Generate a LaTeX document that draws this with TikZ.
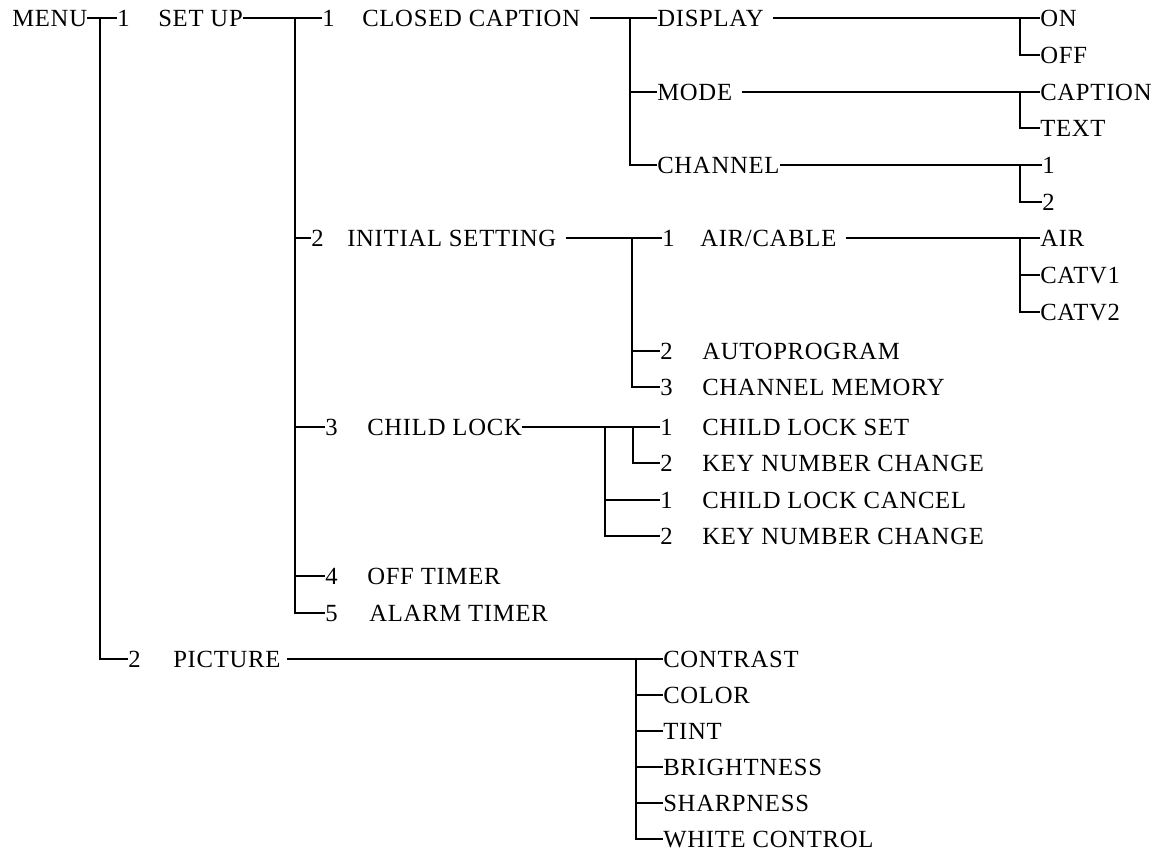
\documentclass[tikz,border=0pt]{standalone}
\usepackage{fontspec}
\setmainfont[LetterSpace=3]{Liberation Serif}
\begin{document}
\begin{tikzpicture}[x=0.75pt,y=-0.75pt,
  lbl/.style={anchor=west,inner sep=0pt,text height=12.2pt,text depth=0pt,font=\fontsize{18.5}{20}\selectfont},
  conn/.style={line width=0.9pt,black}]
\useasboundingbox (0,0) rectangle (1165,854);
% level 0/1
\node[lbl] (menu) at (12,18) {MENU};
\node[lbl] (n1) at (117,18) {1};
\node[lbl] (setup) at (158,18) {SET UP};
\node[lbl] (n2) at (128,659) {2};
\node[lbl] (picture) at (173,659) {PICTURE};
% set up children
\node[lbl] (n11) at (322,18) {1};
\node[lbl] (cc) at (362,18) {CLOSED CAPTION};
\node[lbl] (n12) at (311,238) {2};
\node[lbl] (init) at (347,238) {INITIAL SETTING};
\node[lbl] (n13) at (325,427) {3};
\node[lbl] (cl) at (367,427) {CHILD LOCK};
\node[lbl] (n14) at (325,576) {4};
\node[lbl] (offt) at (367,576) {OFF TIMER};
\node[lbl] (n15) at (325,613) {5};
\node[lbl] (alarm) at (369,613) {ALARM TIMER};
% closed caption children
\node[lbl] (display) at (657,18) {DISPLAY};
\node[lbl] (mode) at (657,92) {MODE};
\node[lbl] (channel) at (657,165) {CHANNEL};
\node[lbl] (on) at (1040,18) {ON};
\node[lbl] (off) at (1040,55) {OFF};
\node[lbl] (caption) at (1040,92) {CAPTION};
\node[lbl] (text) at (1040,128) {TEXT};
\node[lbl] (c1) at (1042,165) {1};
\node[lbl] (c2) at (1042,202) {2};
% initial setting children
\node[lbl] (i1) at (662,238) {1};
\node[lbl] (aircable) at (700,238) {AIR/CABLE};
\node[lbl] (i2) at (660,351) {2};
\node[lbl] (autoprog) at (702,351) {AUTOPROGRAM};
\node[lbl] (i3) at (660,387) {3};
\node[lbl] (chmem) at (702,387) {CHANNEL MEMORY};
\node[lbl] (air) at (1040,238) {AIR};
\node[lbl] (catv1) at (1040,275) {CATV1};
\node[lbl] (catv2) at (1040,312) {CATV2};
% child lock children
\node[lbl] (k1) at (660,427) {1};
\node[lbl] (cls) at (702,427) {CHILD LOCK SET};
\node[lbl] (k2) at (660,463) {2};
\node[lbl] (knc1) at (702,463) {KEY NUMBER CHANGE};
\node[lbl] (k3) at (660,500) {1};
\node[lbl] (clc) at (702,500) {CHILD LOCK CANCEL};
\node[lbl] (k4) at (660,536) {2};
\node[lbl] (knc2) at (702,536) {KEY NUMBER CHANGE};
% picture children
\node[lbl] (contrast) at (663,659) {CONTRAST};
\node[lbl] (color) at (663,695) {COLOR};
\node[lbl] (tint) at (663,731) {TINT};
\node[lbl] (bright) at (663,767) {BRIGHTNESS};
\node[lbl] (sharp) at (663,803) {SHARPNESS};
\node[lbl] (white) at (663,839) {WHITE CONTROL};
% junctions
\coordinate (jm) at (100,18);
\coordinate (js) at (295,18);
\coordinate (jc) at (630,18);
\coordinate (jd) at (1020,18);
\coordinate (jmo) at (1020,92);
\coordinate (jch) at (1020,165);
\coordinate (ji) at (632,238);
\coordinate (ja) at (1020,238);
\coordinate (jk) at (633,427);
\coordinate (jo) at (605,427);
\coordinate (jp) at (636,659);
% connectors
\draw[conn] (menu.east) -- (n1.west);
\draw[conn] (jm) |- (n2.west);
\draw[conn] (setup.east) -- (n11.west);
\draw[conn] (js) |- (n12.west);
\draw[conn] (js) |- (n13.west);
\draw[conn] (js) |- (n14.west);
\draw[conn] (js) |- (n15.west);
\draw[conn] ([xshift=7pt]cc.east) -- (display.west);
\draw[conn] (jc) |- (mode.west);
\draw[conn] (jc) |- (channel.west);
\draw[conn] ([xshift=7pt]display.east) -- (on.west);
\draw[conn] (jd) |- (off.west);
\draw[conn] ([xshift=7pt]mode.east) -- (caption.west);
\draw[conn] (jmo) |- (text.west);
\draw[conn] (channel.east) -- (c1.west);
\draw[conn] (jch) |- (c2.west);
\draw[conn] ([xshift=7pt]init.east) -- (i1.west);
\draw[conn] (ji) |- (i2.west);
\draw[conn] (ji) |- (i3.west);
\draw[conn] ([xshift=7pt]aircable.east) -- (air.west);
\draw[conn] (ja) |- (catv1.west);
\draw[conn] (ja) |- (catv2.west);
\draw[conn] (cl.east) -- (k1.west);
\draw[conn] (jk) |- (k2.west);
\draw[conn] (jo) |- (k3.west);
\draw[conn] (jo) |- (k4.west);
\draw[conn] ([xshift=5pt]picture.east) -- (contrast.west);
\draw[conn] (jp) |- (color.west);
\draw[conn] (jp) |- (tint.west);
\draw[conn] (jp) |- (bright.west);
\draw[conn] (jp) |- (sharp.west);
\draw[conn] (jp) |- (white.west);
\end{tikzpicture}
\end{document}
